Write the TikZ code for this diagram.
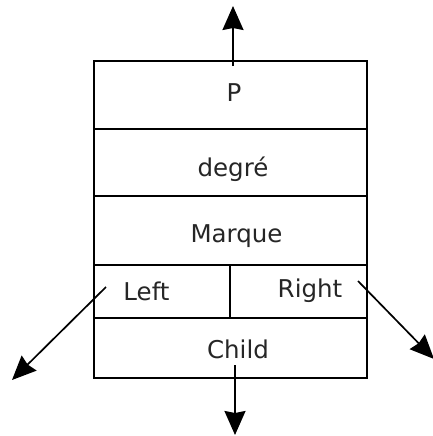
\documentclass[tikz,border=0pt]{standalone}
\usepackage{fontspec}
\setmainfont{DejaVu Sans}
\usetikzlibrary{arrows.meta}
\begin{document}
\begin{tikzpicture}[x=1pt,y=-1pt,
  lbl/.style={font=\fontsize{24.5}{28}\selectfont, anchor=base, text=black!85, inner sep=0pt},
  ptr/.style={line width=1.7pt, -{Stealth[length=24pt,width=21pt,inset=2pt]}}]
\useasboundingbox (0,0) rectangle (433,436);
% cells
\draw[line width=1.7pt] (94,61) rectangle (367,378);
\draw[line width=1.7pt] (94,129) -- (367,129);
\draw[line width=1.7pt] (94,196) -- (367,196);
\draw[line width=1.7pt] (94,265) -- (367,265);
\draw[line width=1.7pt] (94,318) -- (367,318);
\draw[line width=1.7pt] (230,265) -- (230,318);
% labels
\node[lbl] (p) at (234,101) {P};
\node[lbl] (deg) at (233,176) {degré};
\node[lbl] (mar) at (236.5,242.5) {Marque};
\node[lbl] (left) at (146.5,300) {Left};
\node[lbl] (right) at (310,297) {Right};
\node[lbl] (child) at (238,358) {Child};
% pointer ends
\coordinate (ps) at (233,66);
\coordinate (pe) at (233,6);
\coordinate (ls) at (106,287);
\coordinate (le) at (12,380);
\coordinate (rs) at (358,281);
\coordinate (re) at (434,359);
\coordinate (cs) at (235,365);
\coordinate (ce) at (235,435);
\draw[ptr] (ps) -- (pe);
\draw[ptr] (ls) -- (le);
\draw[ptr] (rs) -- (re);
\draw[ptr] (cs) -- (ce);
\end{tikzpicture}
\end{document}
